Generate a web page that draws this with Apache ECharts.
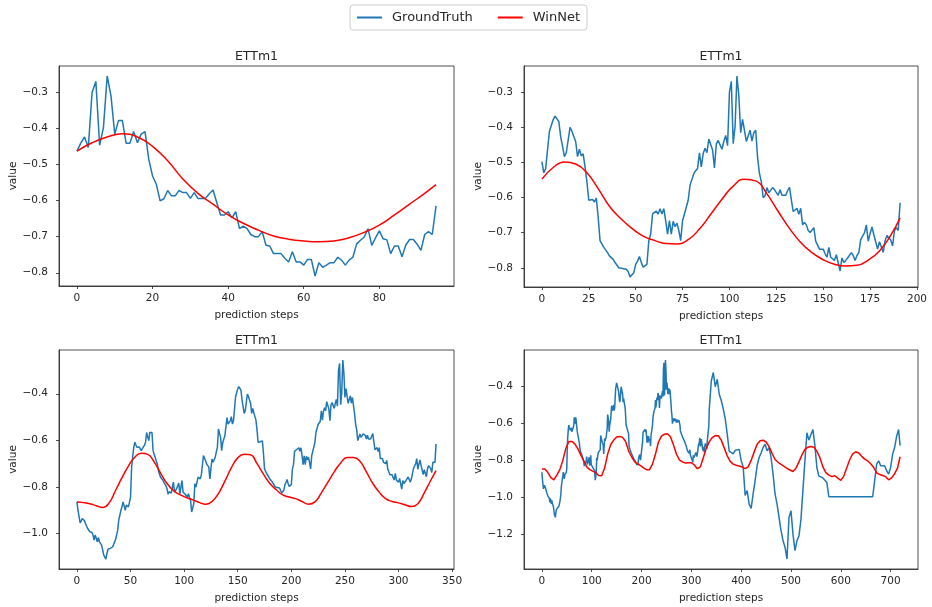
<!DOCTYPE html>
<html>
<head>
<meta charset="utf-8">
<script src="https://cdn.jsdelivr.net/npm/echarts@6/dist/echarts.min.js"></script>
<style>
  html, body { margin: 0; padding: 0; background: #fff; }
  #chart { width: 932px; height: 607px; }
</style>
</head>
<body>
<div id="chart"></div>
<script>
// ---- Ground truth (ETTm1), one continuous record split into stretches ----
// steps 0..143
const gtA = [
  -0.864,-0.900,-0.928,-0.954,-0.945,-0.935,-0.940,-0.945,-0.957,-0.965,
  -0.978,-0.985,-0.992,-0.985,-0.995,-1.006,-1.028,-1.006,-1.020,-1.035,
  -1.016,-1.035,-1.040,-1.049,-1.070,-1.092,-1.100,-1.109,-1.084,-1.067,
  -1.060,-1.063,-1.070,-1.058,-1.049,-1.042,-1.025,-1.006,-0.985,-0.942,
  -0.921,-0.900,-0.885,-0.864,-0.880,-0.900,-0.878,-0.880,-0.885,-0.865,
  -0.843,-0.715,-0.670,-0.630,-0.608,-0.620,-0.630,-0.637,-0.628,-0.623,
  -0.644,-0.635,-0.630,-0.620,-0.608,-0.566,-0.585,-0.601,-0.566,-0.566,
  -0.566,-0.644,-0.660,-0.672,-0.690,-0.701,-0.729,-0.745,-0.758,-0.755,
  -0.770,-0.779,-0.786,-0.795,-0.807,-0.831,-0.820,-0.814,-0.826,-0.800,
  -0.779,-0.822,-0.815,-0.807,-0.795,-0.783,-0.829,-0.800,-0.772,-0.822,
  -0.826,-0.831,-0.838,-0.843,-0.829,-0.845,-0.857,-0.907,-0.890,-0.871,
  -0.786,-0.800,-0.807,-0.758,-0.762,-0.765,-0.750,-0.743,-0.665,-0.676,
  -0.687,-0.701,-0.708,-0.715,-0.765,-0.720,-0.680,-0.694,-0.683,-0.672,
  -0.650,-0.630,-0.551,-0.570,-0.587,-0.644,-0.610,-0.594,-0.580,-0.540,
  -0.502,-0.530,-0.523,-0.516
];
// steps 144..239
const gtB = [
  -0.498,-0.530,-0.518,-0.518,-0.412,-0.408,-0.379,-0.369,-0.369,-0.384,
  -0.427,-0.455,-0.484,-0.473,-0.473,-0.401,-0.412,-0.427,-0.441,-0.484,
  -0.463,-0.482,-0.476,-0.513,-0.556,-0.608,-0.613,-0.606,-0.613,-0.602,
  -0.656,-0.723,-0.728,-0.742,-0.747,-0.757,-0.766,-0.768,-0.776,-0.785,
  -0.790,-0.800,-0.798,-0.802,-0.800,-0.804,-0.811,-0.826,-0.821,-0.814,
  -0.790,-0.781,-0.768,-0.785,-0.798,-0.798,-0.790,-0.723,-0.704,-0.647,
  -0.651,-0.639,-0.647,-0.632,-0.647,-0.632,-0.666,-0.704,-0.666,-0.704,
  -0.668,-0.683,-0.673,-0.694,-0.723,-0.666,-0.647,-0.647,-0.608,-0.565,
  -0.562,-0.532,-0.524,-0.518,-0.473,-0.513,-0.475,-0.460,-0.473,-0.434,
  -0.436,-0.465,-0.516,-0.448,-0.438,-0.438
];
// steps 240..335
const gtC = [
  -0.463,-0.441,-0.424,-0.453,-0.301,-0.270,-0.447,-0.398,-0.255,-0.310,
  -0.416,-0.378,-0.378,-0.441,-0.441,-0.409,-0.440,-0.416,-0.409,-0.486,
  -0.532,-0.555,-0.601,-0.595,-0.572,-0.587,-0.587,-0.572,-0.578,-0.578,
  -0.594,-0.578,-0.594,-0.594,-0.594,-0.581,-0.571,-0.606,-0.640,-0.640,
  -0.631,-0.648,-0.631,-0.678,-0.671,-0.678,-0.694,-0.700,-0.700,-0.686,
  -0.724,-0.726,-0.747,-0.747,-0.747,-0.760,-0.770,-0.742,-0.770,-0.770,
  -0.779,-0.763,-0.763,-0.809,-0.772,-0.785,-0.779,-0.772,-0.772,-0.757,
  -0.765,-0.779,-0.765,-0.757,-0.720,-0.710,-0.701,-0.678,-0.724,-0.703,
  -0.684,-0.706,-0.709,-0.747,-0.726,-0.726,-0.756,-0.723,-0.708,-0.708,
  -0.721,-0.738,-0.694,-0.686,-0.694,-0.615
];
// steps 336..719, [step, value]
const gtD = [
  [336,-0.520],[340,-0.369],[344,-0.323],[348,-0.400],[352,-0.360],[356,-0.441],
  [360,-0.475],[364,-0.520],[368,-0.575],[372,-0.657],[376,-0.750],[380,-0.760],
  [384,-0.765],[388,-0.745],[392,-0.755],[396,-0.740],[400,-0.800],[404,-0.835],
  [408,-0.990],[412,-0.964],[416,-1.037],[420,-1.060],[424,-0.982],[428,-0.910],
  [432,-0.829],[436,-0.784],[440,-0.760],[444,-0.730],[448,-0.712],[452,-0.748],
  [456,-0.730],[460,-0.784],[464,-0.874],[468,-0.982],[472,-1.037],[476,-1.109],
  [480,-1.181],[484,-1.235],[488,-1.271],[492,-1.335],[496,-1.110],[500,-1.073],
  [504,-1.200],[508,-1.289],[512,-1.235],[516,-1.210],[520,-1.120],[524,-0.960],
  [528,-0.800],[532,-0.650],[536,-0.690],[540,-0.660],[544,-0.632],[548,-0.720],
  [552,-0.840],[556,-0.885],[560,-0.880],[564,-0.895],[568,-0.905],[572,-0.920],
  [576,-0.997],[580,-0.997],[584,-0.997],[588,-0.997],[592,-0.997],[596,-0.997],
  [600,-0.997],[604,-0.997],[608,-0.997],[612,-0.997],[616,-0.997],[620,-0.997],
  [624,-0.997],[628,-0.997],[632,-0.997],[636,-0.997],[640,-0.997],[644,-0.997],
  [648,-0.997],[652,-0.997],[656,-0.997],[660,-0.997],[664,-0.997],[668,-0.997],
  [672,-0.820],[676,-0.802],[680,-0.829],[684,-0.838],[688,-0.829],[692,-0.856],
  [696,-0.874],[700,-0.838],[704,-0.766],[708,-0.730],[712,-0.670],[716,-0.632],
  [719,-0.720]
];

// ---- WinNet forecasts, [step, value] ----
const winNet96 = [
  [0,-0.463],[4,-0.440],[8,-0.424],[12,-0.415],[16,-0.424],[20,-0.450],[24,-0.490],
  [28,-0.540],[32,-0.580],[36,-0.610],[40,-0.640],[44,-0.663],[48,-0.682],[52,-0.698],
  [56,-0.707],[60,-0.712],[64,-0.714],[68,-0.712],[72,-0.703],[76,-0.688],[80,-0.668],
  [84,-0.640],[88,-0.610],[92,-0.580],[95,-0.556]
];
const winNet192 = [
  [0,-0.548],[6,-0.515],[12,-0.499],[18,-0.505],[24,-0.530],[30,-0.575],[36,-0.625],
  [42,-0.660],[48,-0.688],[54,-0.710],[60,-0.722],[66,-0.731],[72,-0.732],[78,-0.720],
  [84,-0.690],[90,-0.648],[96,-0.605],[102,-0.568],[108,-0.548],[114,-0.553],[120,-0.590],
  [126,-0.640],[132,-0.688],[138,-0.728],[144,-0.757],[150,-0.777],[156,-0.790],[162,-0.795],
  [168,-0.793],[174,-0.778],[180,-0.752],[186,-0.708],[191,-0.658]
];
const winNet336 = [
  [0,-0.864],[6,-0.867],[12,-0.872],[18,-0.880],[24,-0.888],[30,-0.868],[36,-0.815],
  [42,-0.760],[48,-0.710],[54,-0.672],[60,-0.655],[66,-0.660],[72,-0.692],[78,-0.740],
  [84,-0.785],[90,-0.815],[96,-0.833],[102,-0.845],[108,-0.855],[114,-0.866],[120,-0.874],
  [126,-0.862],[132,-0.828],[138,-0.775],[144,-0.718],[150,-0.675],[156,-0.659],[162,-0.662],
  [168,-0.700],[174,-0.745],[180,-0.785],[186,-0.812],[192,-0.834],[198,-0.843],[204,-0.850],
  [210,-0.862],[216,-0.874],[222,-0.864],[228,-0.825],[234,-0.780],[240,-0.735],[246,-0.697],
  [252,-0.673],[258,-0.673],[264,-0.690],[270,-0.735],[276,-0.785],[282,-0.822],[288,-0.850],
  [294,-0.862],[300,-0.868],[306,-0.876],[312,-0.884],[318,-0.872],[324,-0.825],[330,-0.772],
  [335,-0.730]
];
const winNet720 = [
  [0,-0.847],[6,-0.847],[12,-0.866],[18,-0.893],[24,-0.905],[30,-0.880],[36,-0.850],
  [42,-0.800],[48,-0.735],[54,-0.698],[60,-0.697],[66,-0.710],[72,-0.736],[78,-0.770],
  [84,-0.802],[90,-0.835],[96,-0.850],[102,-0.858],[108,-0.866],[114,-0.882],[120,-0.883],
  [126,-0.840],[132,-0.765],[138,-0.715],[144,-0.690],[150,-0.673],[156,-0.670],[162,-0.675],
  [168,-0.697],[174,-0.748],[180,-0.780],[186,-0.806],[192,-0.818],[198,-0.828],[204,-0.840],
  [210,-0.850],[216,-0.850],[222,-0.820],[228,-0.765],[234,-0.700],[240,-0.668],[246,-0.658],
  [252,-0.655],[258,-0.672],[264,-0.715],[270,-0.765],[276,-0.797],[282,-0.808],[288,-0.814],
  [294,-0.813],[300,-0.812],[306,-0.825],[312,-0.845],[318,-0.835],[324,-0.785],[330,-0.733],
  [336,-0.698],[342,-0.676],[348,-0.665],[354,-0.666],[360,-0.690],[366,-0.732],[372,-0.775],
  [378,-0.805],[384,-0.820],[390,-0.826],[396,-0.830],[402,-0.836],[408,-0.845],[414,-0.835],
  [420,-0.800],[426,-0.755],[432,-0.712],[438,-0.693],[444,-0.690],[450,-0.700],[456,-0.725],
  [462,-0.762],[468,-0.795],[474,-0.810],[480,-0.822],[486,-0.832],[492,-0.843],[498,-0.852],
  [504,-0.860],[510,-0.842],[516,-0.808],[522,-0.770],[528,-0.740],[534,-0.728],[540,-0.724],
  [546,-0.728],[552,-0.750],[558,-0.785],[564,-0.835],[570,-0.866],[576,-0.880],[582,-0.888],
  [588,-0.883],[594,-0.896],[600,-0.908],[606,-0.885],[612,-0.840],[618,-0.795],[624,-0.765],
  [630,-0.753],[636,-0.760],[642,-0.778],[648,-0.793],[654,-0.803],[660,-0.818],[666,-0.838],
  [672,-0.868],[678,-0.876],[684,-0.882],[690,-0.888],[696,-0.905],[702,-0.895],[708,-0.872],
  [714,-0.840],[719,-0.780]
];

// ---- tick labels ----
const xTicks96  = [0, 20, 40, 60, 80];
const xTicks192 = [0, 25, 50, 75, 100, 125, 150, 175, 200];
const xTicks336 = [0, 50, 100, 150, 200, 250, 300, 350];
const xTicks720 = [0, 100, 200, 300, 400, 500, 600, 700];
const yTicks96  = [-0.8, -0.7, -0.6, -0.5, -0.4, -0.3];
const yTicks192 = [-0.8, -0.7, -0.6, -0.5, -0.4, -0.3];
const yTicks336 = [-1.0, -0.8, -0.6, -0.4];
const yTicks720 = [-1.2, -1.0, -0.8, -0.6, -0.4];

const panelTitle = 'ETTm1';
const xName = 'prediction steps';
const yName = 'value';
const names = ['GroundTruth', 'WinNet'];

// ---- assemble series data ----
const indexed = (arr, start) => arr.map((v, i) => [start + i, v]);
const gt336 = indexed(gtA, 0).concat(indexed(gtB, 144), indexed(gtC, 240));
const gt96  = indexed(gtC, 0);
const gt192 = indexed(gtB, 0).concat(indexed(gtC, 96));
const gt720 = gt336.concat(gtD);

const panels = [
  { gt: gt96,  pred: winNet96,  xt: xTicks96,  yt: yTicks96,  smooth: 0.5, grid: { left: 59,  top: 66,  width: 395, height: 220 } },
  { gt: gt192, pred: winNet192, xt: xTicks192, yt: yTicks192, smooth: 0.5, grid: { left: 524, top: 66,  width: 394, height: 221 } },
  { gt: gt336, pred: winNet336, xt: xTicks336, yt: yTicks336, smooth: 0.5, grid: { left: 59,  top: 350, width: 395, height: 219 } },
  { gt: gt720, pred: winNet720, xt: xTicks720, yt: yTicks720, smooth: false, grid: { left: 524, top: 350, width: 394, height: 219 } }
];

// data limits padded by 5% on each side
function padded(lo, hi) {
  const m = (hi - lo) * 0.05;
  return [lo - m, hi + m];
}

const FONT = 'DejaVu Sans';
const TXT = '#262626';
const fmtY = v => (v < 0 ? '\u2212' : '') + Math.abs(v).toFixed(1);
const fmtX = v => String(Math.round(v));

const option = {
  animation: false,
  backgroundColor: '#fff',
  textStyle: { fontFamily: FONT },
  legend: {
    data: names,
    left: 350, top: 5,
    padding: [6, 7, 6, 7],
    itemWidth: 25, itemHeight: 2, itemGap: 25,
    icon: 'rect',
    borderColor: '#cccccc', borderWidth: 1, borderRadius: 3,
    backgroundColor: '#fff',
    textStyle: { fontFamily: FONT, fontSize: 13, color: TXT, padding: [0, 0, 0, 5] }
  },
  title: [], grid: [], xAxis: [], yAxis: [], series: []
};

panels.forEach((p, k) => {
  const all = p.gt.concat(p.pred);
  const ys = all.map(d => d[1]);
  const xs = all.map(d => d[0]);
  const [ymin, ymax] = padded(Math.min(...ys), Math.max(...ys));
  const [xmin, xmax] = padded(Math.min(...xs), Math.max(...xs));

  option.grid.push(Object.assign({
    show: true, borderColor: '#222', borderWidth: 0.8, containLabel: false
  }, p.grid));

  option.title.push({
    text: panelTitle,
    left: p.grid.left + p.grid.width / 2,
    top: p.grid.top - 16,
    textAlign: 'center',
    padding: 0,
    textStyle: { fontFamily: FONT, fontSize: 12.5, fontWeight: 'normal', color: TXT }
  });

  option.xAxis.push({
    type: 'value', gridIndex: k, min: xmin, max: xmax,
    name: xName, nameLocation: 'middle', nameGap: 24,
    nameTextStyle: { fontFamily: FONT, fontSize: 10.5, color: TXT },
    axisLine: { show: true, onZero: false, lineStyle: { color: '#222', width: 0.8 } },
    axisTick: { show: true, length: 3, lineStyle: { color: '#222', width: 0.8 }, customValues: p.xt },
    axisLabel: { fontFamily: FONT, fontSize: 10.5, color: TXT, margin: 7, formatter: fmtX, customValues: p.xt },
    splitLine: { show: false }
  });

  option.yAxis.push({
    type: 'value', gridIndex: k, min: ymin, max: ymax,
    name: yName, nameLocation: 'middle', nameGap: 38,
    nameTextStyle: { fontFamily: FONT, fontSize: 10.5, color: TXT },
    axisLine: { show: true, onZero: false, lineStyle: { color: '#222', width: 0.8 } },
    axisTick: { show: true, length: 3, lineStyle: { color: '#222', width: 0.8 }, customValues: p.yt },
    axisLabel: { fontFamily: FONT, fontSize: 10.5, color: TXT, margin: 11, formatter: fmtY, customValues: p.yt },
    splitLine: { show: false }
  });

  option.series.push({
    name: names[0], type: 'line', xAxisIndex: k, yAxisIndex: k,
    data: p.gt, symbol: 'none', showSymbol: false,
    lineStyle: { color: '#1f77b4', width: 1.5 }, itemStyle: { color: '#1f77b4' },
    z: 2
  });
  option.series.push({
    name: names[1], type: 'line', xAxisIndex: k, yAxisIndex: k,
    data: p.pred, symbol: 'none', showSymbol: false, smooth: p.smooth,
    lineStyle: { color: '#ff0000', width: 1.5 }, itemStyle: { color: '#ff0000' },
    z: 3
  });
});

const chart = echarts.init(document.getElementById('chart'), null, { renderer: 'canvas' });
chart.setOption(option);
</script>
</body>
</html>
